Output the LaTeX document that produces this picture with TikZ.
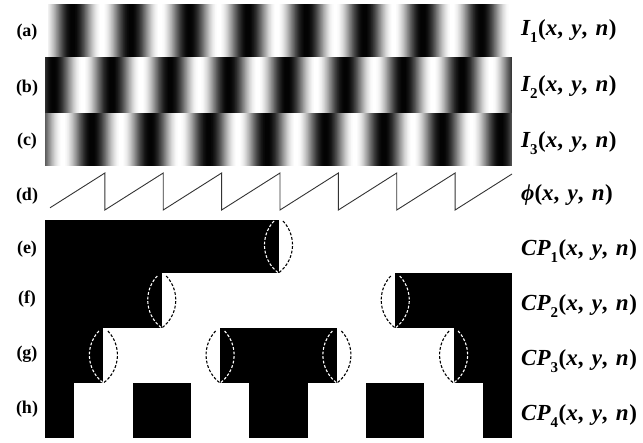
\documentclass[tikz,border=0pt]{standalone}
\usepackage{fontspec}
\setmainfont{Liberation Serif}
\newcommand\mysub[1]{\raisebox{-0.28em}{\fontsize{15}{15}\selectfont\upshape #1}\hspace{0.5pt}}
\newcommand\myargs{{\upshape(}x{\upshape,}\hspace{2.5pt} y{\upshape,}\hspace{2.5pt} n\hspace{0.5pt}{\upshape)}}
\newcommand\mylens[4]{%
  \pgfmathsetmacro\lensA{#2-52}%
  \draw[lensline,#3] plot[domain=\lensA:#2, samples=30, variable=\t] ({#1-(sqrt(1225-(\t-(#2-28))^2)-21)},\t);
  \draw[lensline,#4] plot[domain=\lensA:#2, samples=30, variable=\t] ({#1+(sqrt(1225-(\t-(#2-28))^2)-21)},\t);
}
\begin{document}
\begin{tikzpicture}[x=1pt,y=-1pt,
  leftlab/.style={font=\fontsize{18}{18}\selectfont\bfseries, anchor=base, inner sep=0pt},
  rightlab/.style={font=\fontsize{23}{23}\selectfont\bfseries\itshape, anchor=base west, inner sep=0pt},
  sawline/.style={line width=0.9pt, draw=black!80, line join=miter},
  lensline/.style={line width=1.1pt, dash pattern=on 2.8pt off 1.8pt},
  maskfill/.style={fill=black}]
\useasboundingbox (0,0) rectangle (643,443);
\def\P{58.375}
\def\Xo{46.5}
% fringe patterns
\foreach \yt/\yb/\d/\xs in {4/57/0.45/48, 57/113/0.12/45, 113/166/0.78/45} {
  \foreach \xx in {\xs,...,511} {
    \pgfmathtruncatemacro\v{50+50*cos(360*((\xx+0.5-\Xo)/\P-\d))}
    \fill[black!\v] (\xx,\yt) rectangle (\xx+1.25,\yb);
  }
}
% wrapped phase
\draw[sawline] (50,207.8) foreach \k in {1,...,7} { -- ({\Xo+\k*\P},173) -- ({\Xo+\k*\P},210) } -- (512,174);
% code patterns
\fill[maskfill] (45,220) rectangle (278.5,273);
\fill[maskfill] (45,273) rectangle (161.75,328);
\fill[maskfill] (395.25,273) rectangle (512,328);
\fill[maskfill] (45,328) rectangle (103.4,383);
\fill[maskfill] (220.1,328) rectangle (336.9,383);
\fill[maskfill] (453.6,328) rectangle (512,383);
\fill[maskfill] (45,383) rectangle (74.2,438);
\fill[maskfill] (132.6,383) rectangle (190.9,438);
\fill[maskfill] (249.3,383) rectangle (307.7,438);
\fill[maskfill] (366.1,383) rectangle (424.4,438);
\fill[maskfill] (482.8,383) rectangle (512,438);
% lenses
\mylens{278.5}{273}{white}{black}
\mylens{161.75}{328}{white}{black}
\mylens{395.25}{328}{black}{white}
\mylens{103.4}{383}{white}{black}
\mylens{220.1}{383}{black}{white}
\mylens{336.9}{383}{white}{black}
\mylens{453.6}{383}{black}{white}
% left labels
\node[leftlab] (la) at (27,37) {(a)};
\node[leftlab] (lb) at (27,93) {(b)};
\node[leftlab] (lc) at (27,146) {(c)};
\node[leftlab] (ld) at (27,201) {(d)};
\node[leftlab] (le) at (27,254) {(e)};
\node[leftlab] (lf) at (27,304) {(f)};
\node[leftlab] (lg) at (27,359) {(g)};
\node[leftlab] (lh) at (27,414) {(h)};
% right labels
\node[rightlab] (r1) at (521,36) {I\mysub{1}\myargs};
\node[rightlab] (r2) at (521,92) {I\mysub{2}\myargs};
\node[rightlab] (r3) at (521,148) {I\mysub{3}\myargs};
\node[rightlab] (r4) at (521,201) {ϕ\myargs};
\node[rightlab] (r5) at (521,256) {CP\mysub{1}\myargs};
\node[rightlab] (r6) at (521,311) {CP\mysub{2}\myargs};
\node[rightlab] (r7) at (521,366) {CP\mysub{3}\myargs};
\node[rightlab] (r8) at (521,421) {CP\mysub{4}\myargs};
\end{tikzpicture}
\end{document}
